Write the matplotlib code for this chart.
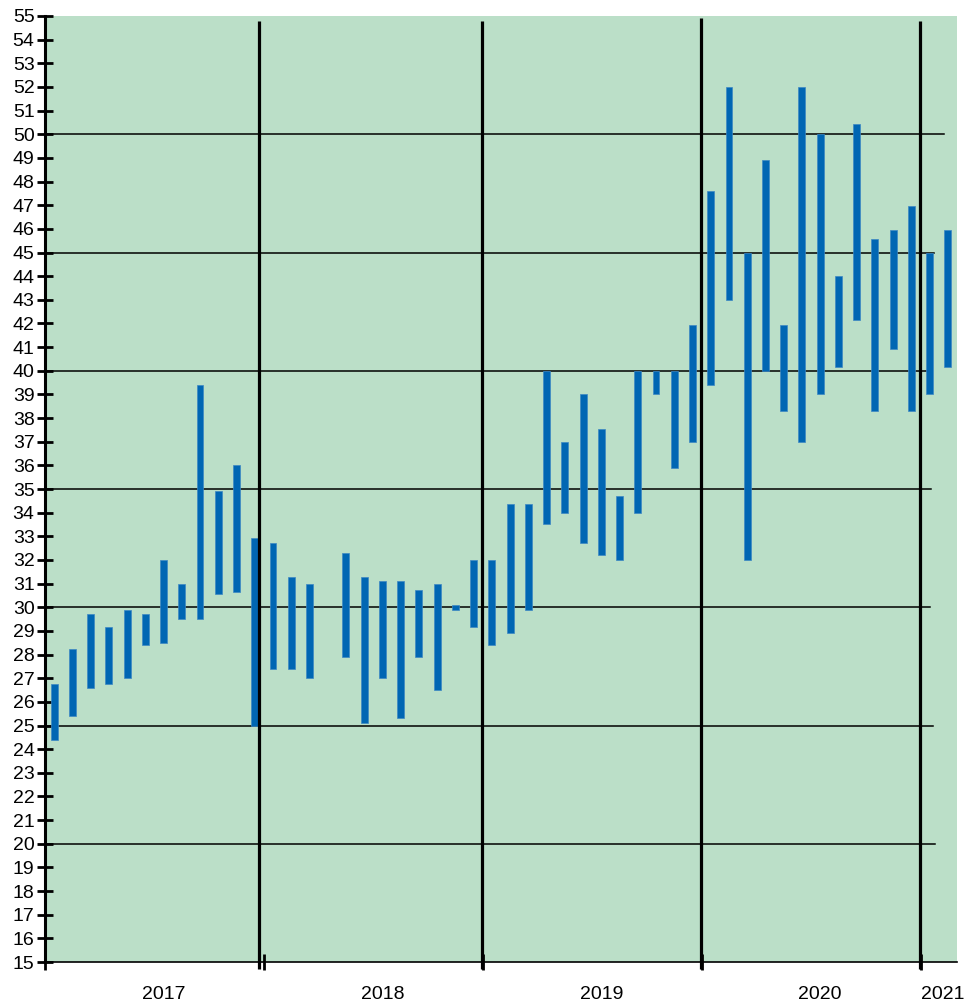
import numpy as np
import matplotlib.pyplot as plt

# ===================== ##
# Data (monthly low/high, Jan 2017 - Feb 2021)
# ===================== ##
month_idx = np.arange(50)
lows = [24.4, 25.4, 26.6, 26.75, 27.0, 28.4, 28.5, 29.5, 29.5, 30.55, 30.65, 25.0,
        27.4, 27.4, 27.0, np.nan, 27.9, 25.1, 27.0, 25.3, 27.9, 26.5, 29.9, 29.15,
        28.4, 28.9, 29.9, 33.5, 34.0, 32.7, 32.2, 32.0, 34.0, 39.0, 35.9, 37.0,
        39.4, 43.0, 32.0, 40.0, 38.3, 37.0, 39.0, 40.15, 42.15, 38.3, 40.9, 38.3,
        39.0, 40.15]
highs = [26.75, 28.25, 29.7, 29.15, 29.9, 29.7, 32.0, 31.0, 39.4, 34.9, 36.0, 32.95,
         32.7, 31.3, 31.0, np.nan, 32.3, 31.3, 31.1, 31.1, 30.75, 31.0, 30.1, 32.0,
         32.0, 34.35, 34.35, 40.0, 37.0, 39.0, 37.55, 34.7, 40.0, 40.0, 40.0, 41.95,
         47.6, 52.0, 45.0, 48.9, 41.95, 52.0, 50.0, 44.0, 50.45, 45.55, 45.95, 46.95,
         45.0, 45.95]
year_labels = ["2017", "2018", "2019", "2020", "2021"]
year_label_pos = [6, 18, 30, 42, 48.7]
year_tick_pos = [-0.5, 11.53, 23.5, 35.5, 47.5]
grid_levels = [20, 25, 30, 35, 40, 45, 50]

lows = np.array(lows)
highs = np.array(highs)

# ===================== ##
# Plot                   ##
# ===================== ##
plt.rcParams['font.family'] = ['Liberation Sans', 'DejaVu Sans']

fig = plt.figure(figsize=(9.65, 10.06), dpi=100)
ax = fig.add_axes([0.0466, 0.0437, 0.9451, 0.9404])
ax.set_facecolor('#BBDFC8')

ax.bar(month_idx, highs - lows, bottom=lows, width=0.38, color='#0066B3',
       edgecolor='#3D87C4', linewidth=0.5, zorder=3)

# horizontal reference lines (hand drawn style, uneven right ends)
grid_ends = [0.976, 0.974, 0.970, 0.972, 0.969, 0.975, 0.986]
for lvl, xe in zip(grid_levels, grid_ends):
    ax.axhline(lvl, xmin=0, xmax=xe, color='black', linewidth=1.1, zorder=2)

# year separators
for xs, top in zip([11.25, 23.45, 35.46, 47.48], [54.8, 54.8, 54.9, 54.8]):
    ax.plot([xs, xs], [14.7, top], color='black', linewidth=2.3, zorder=4,
            clip_on=False, solid_capstyle='butt')

ax.set_xlim(-0.5, 49.5)
ax.set_ylim(15, 55)
ax.set_yticks(range(15, 56))
ax.tick_params(axis='y', direction='inout', length=11, width=2, labelsize=14, pad=2)

ax.set_xticks(year_tick_pos)
ax.set_xticklabels([])
ax.tick_params(axis='x', which='major', direction='inout', length=12, width=2)
ax.set_xticks(year_label_pos, minor=True)
ax.set_xticklabels(year_labels, minor=True)
ax.tick_params(axis='x', which='minor', length=0, labelsize=14, pad=17)

for side in ['top', 'right']:
    ax.spines[side].set_visible(False)
ax.spines['left'].set_linewidth(2.2)
ax.spines['bottom'].set_linewidth(1.2)

plt.savefig("out.png", dpi=100)
